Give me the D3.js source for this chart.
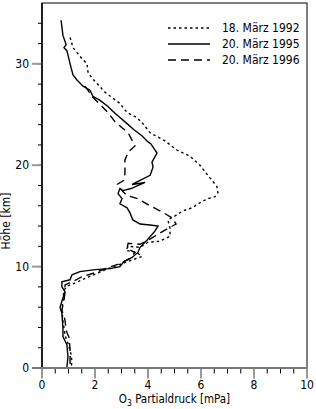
<!DOCTYPE html>
<meta charset='utf-8'>
<script src='https://d3js.org/d3.v7.min.js'></script>
<style>
body { margin: 0; background: #fff; }
text { font-family: 'DejaVu Sans Condensed', 'Liberation Sans Narrow', 'Roboto', sans-serif; font-stretch: condensed; fill: #000; }
</style>
<body>
<script>
var width = 316,
    height = 409;

// [O3 partial pressure (mPa), altitude (km)]
var mar1992 = [
  [1.06,32.6],[1.17,31.6],[1.51,30.5],[1.70,30.0],[1.74,29.1],[1.92,28.5],[2.38,27.2],[2.68,26.6],
  [2.94,26.1],[3.21,25.2],[3.58,24.7],[3.81,24.1],[4.08,23.2],[4.64,22.4],[5.09,21.5],[5.58,20.9],
  [5.96,20.0],[6.26,19.0],[6.45,18.4],[6.60,17.9],[6.64,17.3],[6.53,16.9],[6.26,16.7],[5.96,16.3],
  [5.66,15.8],[5.32,15.5],[5.02,15.0],[4.75,14.6],[4.83,13.8],[4.83,13.0],[4.45,12.5],[4.00,12.4],
  [3.70,11.9],[3.25,12.0],[3.17,11.6],[3.58,11.4],[3.77,11.0],[3.13,10.4],[2.49,9.8],[2.04,9.3],
  [1.43,8.6],[0.98,8.1],[0.83,7.7],[0.79,6.7],[0.75,5.7],[0.79,4.7],[0.87,3.2],[1.00,2.3],
  [1.10,1.3],[1.13,0.6],[1.10,0.1]
];
var mar1995 = [
  [0.72,34.3],[0.79,32.8],[0.91,31.9],[0.83,31.6],[0.94,31.3],[1.06,30.0],[1.17,28.9],[1.32,28.4],
  [1.55,27.8],[1.81,27.4],[1.92,26.8],[2.19,26.4],[2.49,25.8],[2.68,25.3],[2.94,24.7],[3.21,24.1],
  [3.47,23.5],[3.77,22.9],[4.00,22.3],[4.11,22.1],[4.34,21.2],[4.15,20.3],[4.19,19.8],[4.08,19.0],
  [3.70,18.5],[3.40,18.1],[3.89,18.3],[3.36,17.7],[3.06,17.5],[2.94,17.7],[2.87,17.2],[3.02,16.7],
  [2.94,16.2],[3.21,15.8],[3.32,15.3],[3.43,14.6],[3.70,14.2],[4.08,14.1],[4.38,14.0],[4.26,13.5],
  [3.96,12.6],[3.70,11.9],[3.62,11.4],[3.40,10.9],[3.09,10.5],[2.94,10.0],[2.57,9.8],[2.00,9.7],
  [1.43,9.5],[1.13,9.2],[1.06,8.7],[0.75,8.5],[0.75,8.0],[0.87,7.5],[0.79,6.9],[0.68,6.0],
  [0.75,5.4],[0.79,3.9],[0.79,3.1],[0.94,2.3],[0.98,1.1],[0.94,0.1]
];
var mar1996 = [
  [1.62,27.8],[1.92,26.7],[2.19,26.0],[2.49,25.2],[2.75,24.3],[3.02,23.7],[3.25,23.2],[3.51,21.9],
  [3.25,21.3],[3.13,20.5],[3.13,19.2],[3.09,18.5],[2.83,18.1],[3.02,17.5],[3.21,17.0],[3.62,16.7],
  [4.08,16.0],[4.53,15.4],[4.91,14.8],[5.06,14.2],[4.64,13.6],[4.26,13.0],[4.00,12.6],[3.70,12.2],
  [3.25,12.3],[3.21,11.8],[3.51,11.4],[3.32,10.8],[2.94,10.3],[2.49,9.9],[2.00,9.4],[1.51,9.0],
  [1.13,8.5],[0.87,8.2],[0.87,7.5],[0.83,6.7],[0.75,5.7],[0.87,4.7],[0.91,3.7],[1.02,3.0],
  [1.06,1.8],[1.06,0.3]
];

var series = [
  {label: '18. März 1992', data: mar1992, dash: '2.5,3'},
  {label: '20. März 1995', data: mar1995, dash: null},
  {label: '20. März 1996', data: mar1996, dash: '8,5'}
];

var margin = {top: 3, right: 9, bottom: 41, left: 42};

var x = d3.scaleLinear().domain([0, 10]).range([margin.left, width - margin.right]);
var y = d3.scaleLinear().domain([0, 36]).range([height - margin.bottom, margin.top]);

var svg = d3.select('body').append('svg').attr('width', width).attr('height', height);

// frame
svg.append('rect')
    .attr('x', x(0)).attr('y', y(36))
    .attr('width', x(10) - x(0)).attr('height', y(0) - y(36))
    .attr('fill', 'none').attr('stroke', '#000').attr('stroke-width', 1);

// y ticks
var gy = svg.append('g');
gy.selectAll('.minor').data(d3.range(0, 36, 2)).enter().append('line')
    .attr('x1', x(0) - 4).attr('x2', x(0))
    .attr('y1', function(d) { return y(d); }).attr('y2', function(d) { return y(d); })
    .attr('stroke', '#000').attr('stroke-width', 1);
gy.selectAll('.major').data([0, 10, 20, 30]).enter().append('line')
    .attr('x1', x(0) - 10).attr('x2', x(0))
    .attr('y1', function(d) { return y(d); }).attr('y2', function(d) { return y(d); })
    .attr('stroke', '#999').attr('stroke-width', 2);
gy.selectAll('text').data([0, 10, 20, 30]).enter().append('text')
    .attr('x', x(0) - 13).attr('y', function(d) { return y(d); })
    .attr('dy', '0.35em').attr('text-anchor', 'end').attr('font-size', 12)
    .text(function(d) { return d; });
svg.append('line')
    .attr('x1', x(0)).attr('x2', x(0)).attr('y1', y(0)).attr('y2', y(36))
    .attr('stroke', '#000').attr('stroke-width', 1.5);

// x ticks
var gx = svg.append('g');
gx.selectAll('.minor').data(d3.range(0.5, 10, 0.5)).enter().append('line')
    .attr('x1', function(d) { return x(d); }).attr('x2', function(d) { return x(d); })
    .attr('y1', y(0)).attr('y2', y(0) + 5.5)
    .attr('stroke', '#000').attr('stroke-width', 1);
gx.selectAll('.major').data([0, 2, 4, 6, 8, 10]).enter().append('line')
    .attr('x1', function(d) { return x(d); }).attr('x2', function(d) { return x(d); })
    .attr('y1', y(0)).attr('y2', y(0) + 10.5)
    .attr('stroke', '#999').attr('stroke-width', 2);
gx.selectAll('text').data([0, 2, 4, 6, 8, 10]).enter().append('text')
    .attr('x', function(d) { return x(d); }).attr('y', y(0) + 21)
    .attr('text-anchor', 'middle').attr('font-size', 12)
    .text(function(d) { return d; });
svg.append('line')
    .attr('x1', x(0) - 10).attr('x2', x(10)).attr('y1', y(0)).attr('y2', y(0))
    .attr('stroke', '#777').attr('stroke-width', 2);

// axis titles
var xt = svg.append('text')
    .attr('x', (x(0) + x(10)) / 2).attr('y', y(0) + 35)
    .attr('text-anchor', 'middle').attr('font-size', 11.5);
xt.append('tspan').text('O');
xt.append('tspan').attr('font-size', 8.5).attr('dy', 3).text('3');
xt.append('tspan').attr('dy', -3).text(' Partialdruck [mPa]');

svg.append('text')
    .attr('transform', 'translate(10,' + y(14.5) + ') rotate(-90)')
    .attr('text-anchor', 'middle').attr('font-size', 12)
    .text('Höhe [km]');

// profiles
var line = d3.line()
    .x(function(d) { return x(d[0]); })
    .y(function(d) { return y(d[1]); });

svg.selectAll('.profile').data(series).enter().append('path')
    .attr('d', function(d) { return line(d.data); })
    .attr('fill', 'none').attr('stroke', '#000').attr('stroke-width', 1.4)
    .attr('stroke-dasharray', function(d) { return d.dash; });

// legend
var lg = svg.selectAll('.legend').data(series).enter().append('g')
    .attr('transform', function(d, i) { return 'translate(168,' + (28 + i * 16) + ')'; });
lg.append('line')
    .attr('x1', 0).attr('x2', 42).attr('y1', 0).attr('y2', 0)
    .attr('stroke', '#000').attr('stroke-width', 1.4)
    .attr('stroke-dasharray', function(d) { return d.dash; });
lg.append('text')
    .attr('x', 54).attr('dy', '0.35em').attr('font-size', 12)
    .text(function(d) { return d.label; });
</script>
